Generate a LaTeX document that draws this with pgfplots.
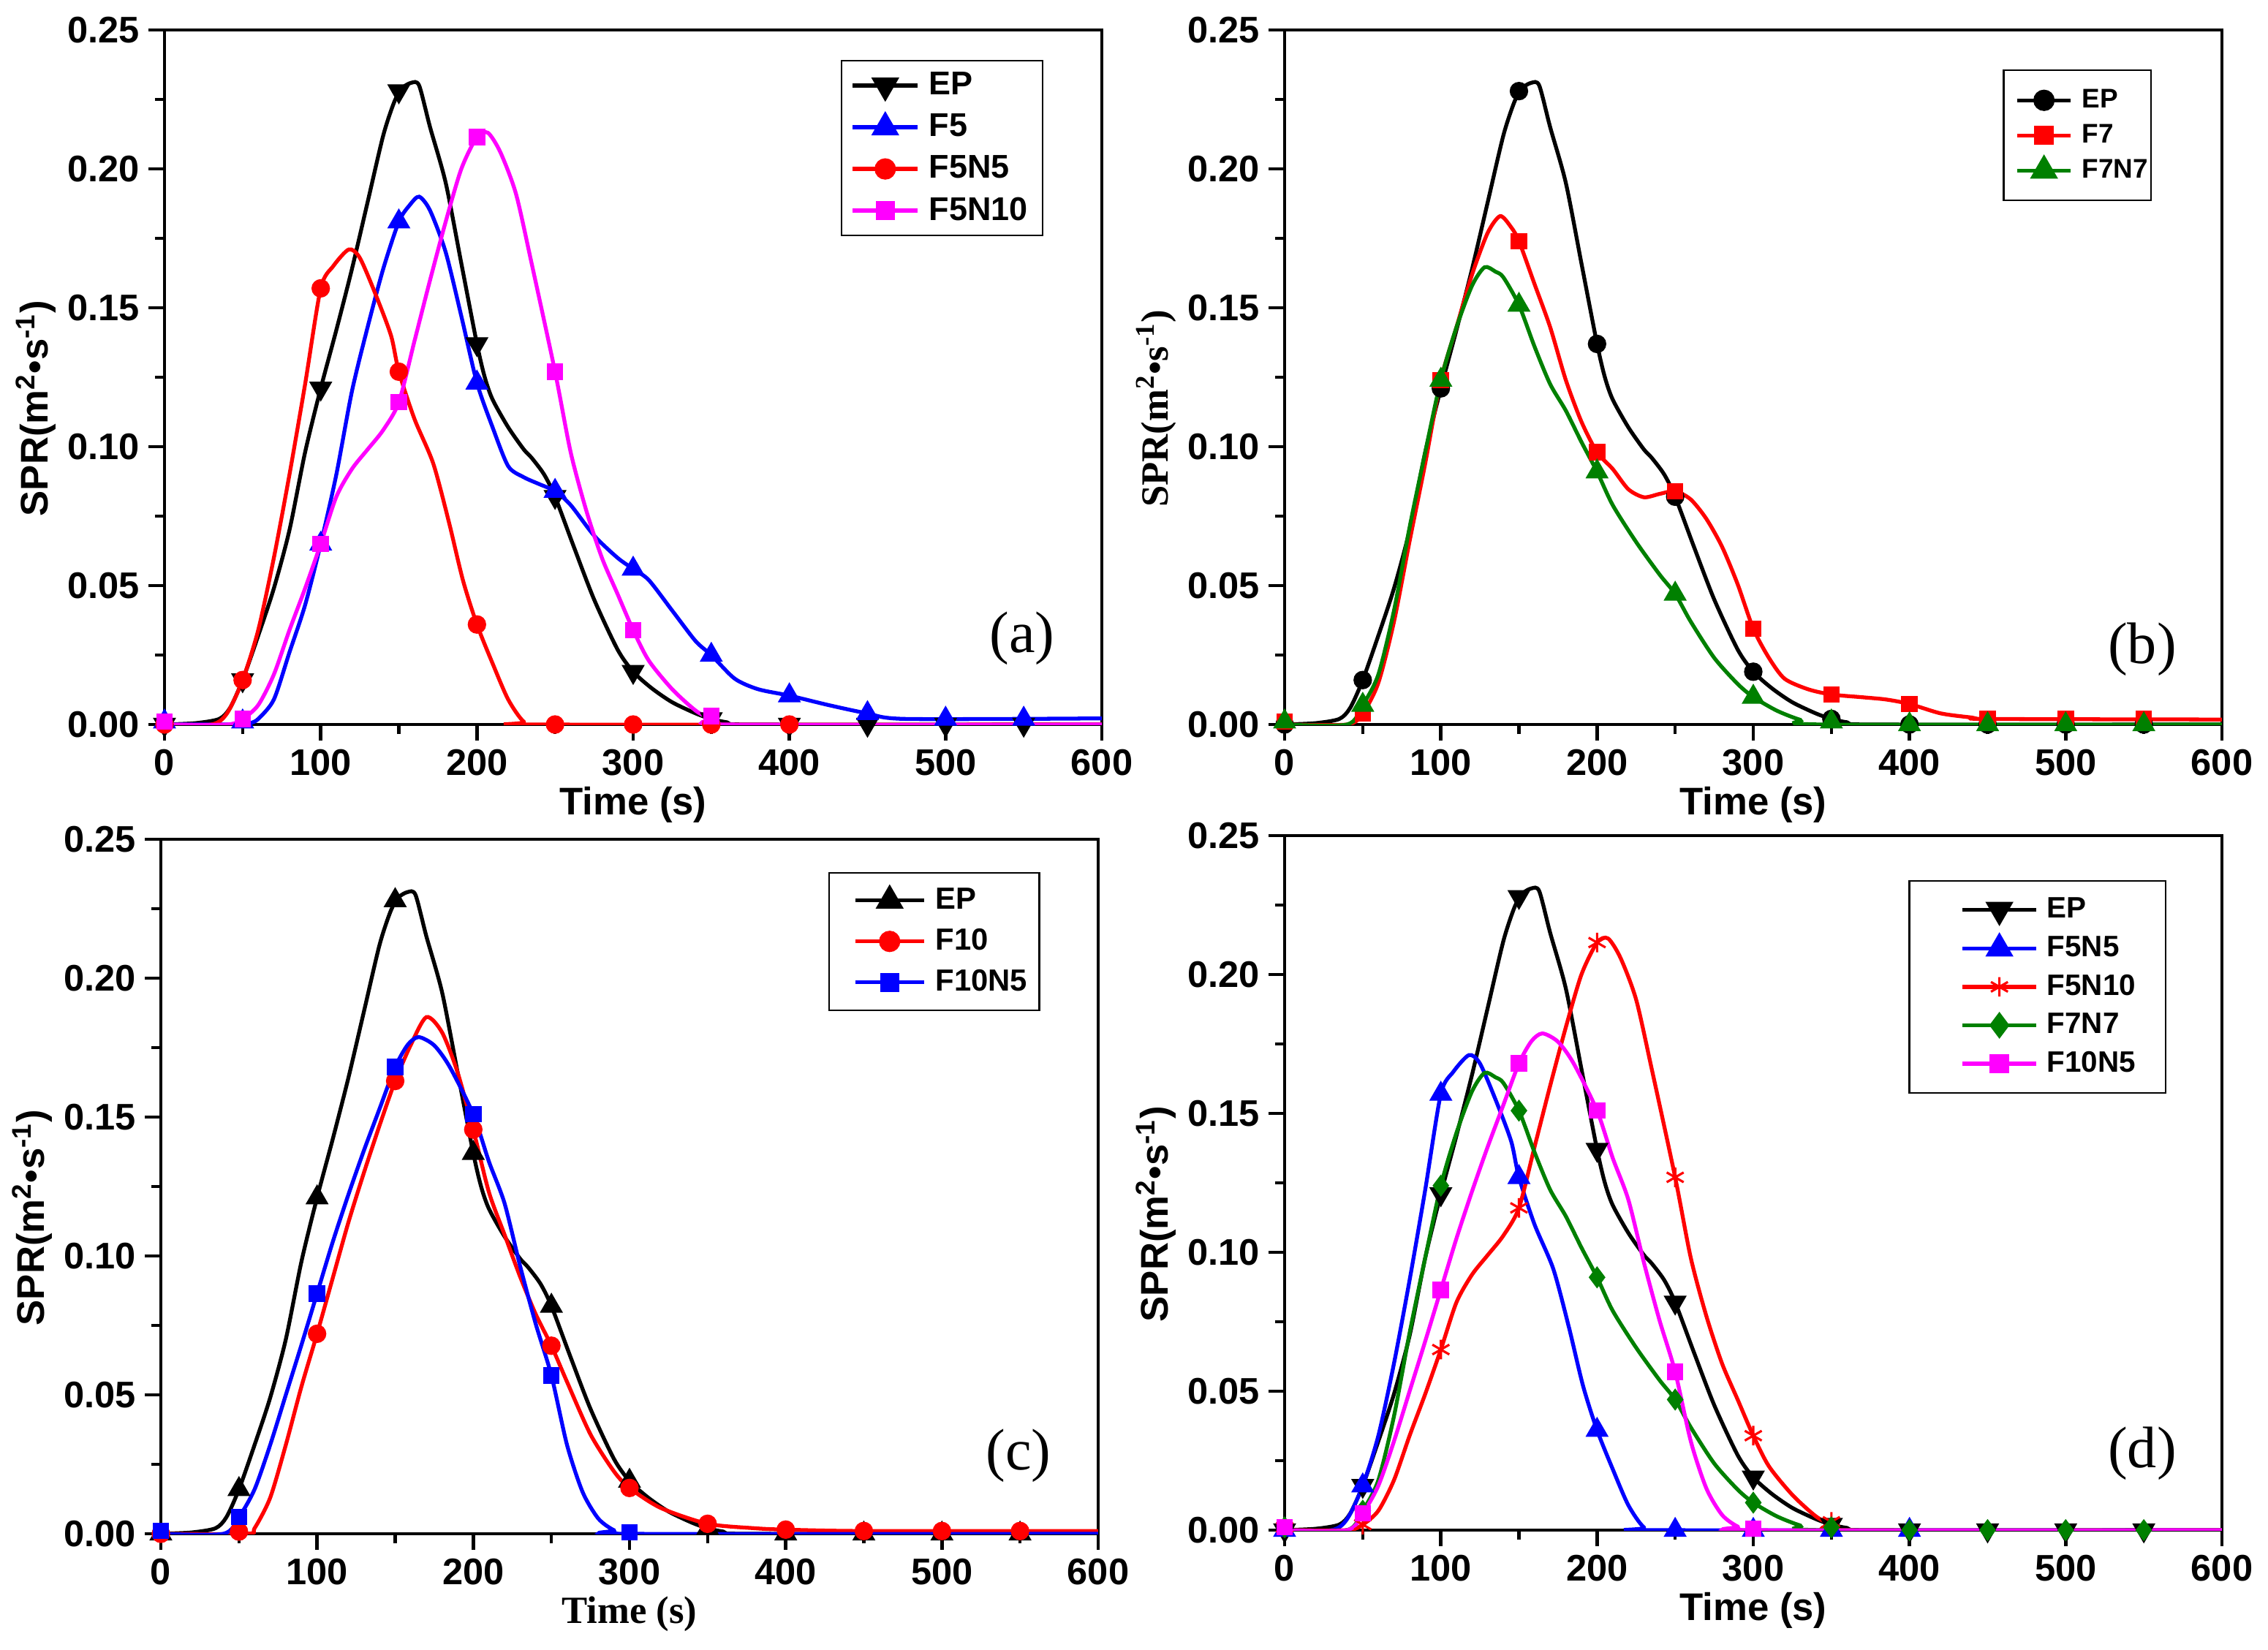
\documentclass[border=0pt]{standalone}
\usepackage{fontspec}
\setmainfont{Liberation Sans}
\newfontfamily\tnr{Liberation Serif}
\usepackage{pgfplots}
\usepackage{pgfplotstable}
\pgfplotsset{compat=1.18}

% ---------- line data ----------
\pgfplotstableread{
t v
0 0
20 0.0005
35 0.002
42 0.006
50 0.016
60 0.032
70 0.049
80 0.070
90 0.098
100 0.121
110 0.142
120 0.164
130 0.188
140 0.212
147 0.224
152 0.229
158 0.231
163 0.230
170 0.215
180 0.195
190 0.166
200 0.137
205 0.125
210 0.117
220 0.107
230 0.099
235 0.096
243 0.090
250 0.082
262 0.064
275 0.045
290 0.027
300 0.019
312 0.013
325 0.008
340 0.004
350 0.002
360 0.0008
375 0
600 0
}\EPline
\pgfplotstableread{
t v
0 0
50 0
55 0.0005
60 0.002
70 0.009
80 0.026
90 0.043
100 0.065
110 0.090
120 0.120
130 0.143
140 0.164
150 0.181
157 0.187
163 0.190
170 0.185
180 0.170
190 0.147
200 0.123
210 0.107
220 0.093
230 0.089
240 0.0865
250 0.084
260 0.079
275 0.068
290 0.060
300 0.056
310 0.052
325 0.041
340 0.030
350 0.025
365 0.0165
380 0.0127
400 0.0104
425 0.007
450 0.004
475 0.002
600 0.0022
}\Fline
\pgfplotstableread{
t v
0 0
30 0
40 0.004
50 0.016
60 0.034
70 0.060
80 0.090
90 0.1225
100 0.157
108 0.165
118 0.171
125 0.168
135 0.155
145 0.140
150 0.127
160 0.110
172 0.094
182 0.073
191 0.052
200 0.036
210 0.022
220 0.009
230 0.001
240 0
600 0
}\FNline
\pgfplotstableread{
t v
0 0
40 0
50 0.002
60 0.007
70 0.018
80 0.034
90 0.049
100 0.065
110 0.082
120 0.092
130 0.099
140 0.106
150 0.116
160 0.138
170 0.160
180 0.181
190 0.200
200 0.2115
207 0.213
215 0.206
225 0.191
235 0.166
250 0.127
260 0.098
270 0.077
280 0.060
290 0.047
300 0.034
310 0.023
325 0.0127
340 0.005
350 0.002
360 0
600 0
}\FNTline
\pgfplotstableread{
t v
0 0
40 0
50 0.004
60 0.015
70 0.037
80 0.066
90 0.094
100 0.124
110 0.143
120 0.162
130 0.177
138 0.183
145 0.179
150 0.174
160 0.1585
170 0.143
180 0.124
190 0.109
200 0.098
210 0.092
220 0.0847
230 0.0818
240 0.083
250 0.084
260 0.081
270 0.074
280 0.064
290 0.0505
300 0.0345
310 0.024
320 0.0165
335 0.0127
350 0.0108
370 0.0098
385 0.009
400 0.0074
420 0.004
440 0.0025
450 0.002
600 0.0018
}\Fsline
\pgfplotstableread{
t v
0 0
40 0
50 0.007
60 0.018
70 0.041
80 0.071
90 0.098
100 0.124
110 0.143
120 0.158
128 0.1646
135 0.163
140 0.161
150 0.151
160 0.136
170 0.1225
180 0.113
190 0.1017
200 0.091
210 0.079
225 0.0657
240 0.054
250 0.047
260 0.037
275 0.024
290 0.0146
300 0.0099
315 0.005
330 0.0017
345 0
600 0
}\FsNsline
\pgfplotstableread{
t v
0 0
55 0
60 0.002
70 0.013
80 0.032
90 0.053
100 0.072
110 0.092
120 0.112
130 0.130
140 0.147
150 0.163
160 0.176
170 0.186
180 0.1805
190 0.166
200 0.1455
210 0.123
220 0.1077
230 0.0925
240 0.079
250 0.0677
260 0.0547
275 0.0358
290 0.0225
300 0.0165
320 0.0093
350 0.0036
380 0.002
400 0.0015
450 0.001
600 0.001
}\FTline
\pgfplotstableread{
t v
0 0
40 0
50 0.006
60 0.016
70 0.032
80 0.050
90 0.068
100 0.0865
110 0.105
120 0.122
130 0.138
140 0.153
150 0.168
158 0.176
165 0.1788
175 0.1758
185 0.168
200 0.151
210 0.134
220 0.119
230 0.0963
240 0.0755
250 0.057
260 0.032
270 0.015
280 0.0055
290 0.0013
300 0
600 0
}\FTNline

% ---------- marker data ----------
\pgfplotstableread{
t v
0 0
50 0.016
100 0.121
150 0.228
200 0.137
250 0.082
300 0.019
350 0.002
400 0
450 0
500 0
550 0
}\EPmk
\pgfplotstableread{
t v
0 0.001
50 0.001
100 0.065
150 0.181
200 0.123
250 0.084
300 0.056
350 0.025
400 0.0104
450 0.004
500 0.002
550 0.002
}\Fmk
\pgfplotstableread{
t v
0 0
50 0.016
100 0.157
150 0.127
200 0.036
250 0
300 0
350 0
400 0
}\FNmk
\pgfplotstableread{
t v
0 0.001
50 0.002
100 0.065
150 0.116
200 0.2115
250 0.127
300 0.034
350 0.003
}\FNTmk
\pgfplotstableread{
t v
0 0.001
50 0.004
100 0.124
150 0.174
200 0.098
250 0.084
300 0.0345
350 0.0108
400 0.0074
450 0.002
500 0.002
550 0.002
}\Fsmk
\pgfplotstableread{
t v
0 0.001
50 0.007
100 0.124
150 0.151
200 0.091
250 0.047
300 0.0099
350 0.001
400 0
450 0
500 0
550 0
}\FsNsmk
\pgfplotstableread{
t v
0 0
50 0.0008
100 0.072
150 0.163
200 0.1455
250 0.0677
300 0.0165
350 0.0036
400 0.0015
450 0.001
500 0.001
550 0.001
}\FTmk
\pgfplotstableread{
t v
0 0.001
50 0.006
100 0.0865
150 0.168
200 0.151
250 0.057
300 0.0005
}\FTNmk

\definecolor{dgreen}{RGB}{0,128,0}
\definecolor{mag}{RGB}{255,0,255}
\definecolor{pblue}{RGB}{0,0,255}
\definecolor{pred}{RGB}{255,0,0}

\tikzset{plab/.style={font=\tnr\fontsize{22.8}{26}\selectfont}}
\pgfplotsset{
  panel/.style={
    scale only axis, width=128.2mm, height=95mm,
    xmin=0, xmax=600, ymin=0, ymax=0.25,
    xtick={0,100,200,300,400,500,600},
    minor xtick={50,150,250,350,450,550},
    ytick={0,0.05,0.1,0.15,0.2,0.25},
    minor ytick={0.025,0.075,0.125,0.175,0.225},
    tick align=outside, xtick pos=bottom, ytick pos=left,
    major tick length=2.2mm, minor tick length=1.3mm,
    axis line style={line width=1.3pt},
    every tick/.style={line width=1.3pt, black},
    tick label style={font=\fontsize{14.4}{17}\selectfont\bfseries},
    /pgf/number format/assume math mode=true,
    yticklabel style={/pgf/number format/fixed, /pgf/number format/fixed zerofill, /pgf/number format/precision=2},
    label style={font=\fontsize{15}{17}\selectfont\bfseries},
    xlabel style={at={(axis description cs:0.5,-0.116)}, anchor=center},
    ylabel style={at={(axis description cs:-0.137,0.455)}, anchor=center},
    legend cell align=left,
  },
  ln/.style={line width=1.5pt, forget plot, smooth, tension=0.45},
  mk/.style={only marks, forget plot},
  myleg/.style n args={9}{% x, y, font size, Lpad, len, gap, textwidth, rowheight, ysep
    legend style={at={(#1,#2)}, anchor=north east, draw=black, line width=0.6pt, fill=white,
      font=\fontsize{#3}{#3}\selectfont\bfseries,
      inner xsep=0pt, inner ysep=#9,
      nodes={inner xsep=0pt, inner ysep=0pt, minimum height=#8, text width=#7, align=left}},
    legend image code/.code={\path (0mm,0mm) (#4+#5+#6,0mm);
      \draw[mark repeat=2,mark phase=2,##1] plot coordinates {(#4,0mm) (#4+#5/2,0mm) (#4+#5,0mm)};},
  },
  mTri/.style={mark=triangle*, mark size=4.8pt},
  mDn/.style={mark=triangle*, mark size=4.8pt, mark options={rotate=180}},
  mCir/.style={mark=*, mark size=3.4pt},
  mSq/.style={mark=square*, mark size=3.0pt},
  mDia/.style={mark=diamond*, mark size=4.0pt},
  mAst/.style={mark=asterisk, mark size=3.8pt, mark options={line width=0.9pt}},
  lg/.style={line width=1.5pt},
}

\begin{document}
\begin{tikzpicture}
% ================= (a) =================
\begin{axis}[panel, at={(22.5mm,-99.1mm)}, anchor=south west,
  xlabel={Time (s)}, ylabel={SPR(m\textsuperscript{2}\textbullet s\textsuperscript{-1})},
  myleg={0.9376}{0.9568}{12.8}{1.3mm}{8.9mm}{1.3mm}{15.5mm}{5.7mm}{0.55mm}]
\addplot[ln, black] table {\EPline};
\addplot[mk, black, mDn] table {\EPmk};
\addplot[ln, pblue] table {\Fline};
\addplot[mk, pblue, mTri] table {\Fmk};
\addplot[ln, pred] table {\FNline};
\addplot[mk, pred, mCir] table {\FNmk};
\addplot[ln, mag] table {\FNTline};
\addplot[mk, mag, mSq] table {\FNTmk};
\addlegendimage{black, lg, mDn}
\addlegendentry{EP}
\addlegendimage{pblue, lg, mTri}
\addlegendentry{F5}
\addlegendimage{pred, lg, mCir}
\addlegendentry{F5N5}
\addlegendimage{mag, lg, mSq}
\addlegendentry{F5N10}
\node[plab] at (axis cs:549,0.031) {(a)};
\end{axis}

% ================= (b) =================
\begin{axis}[panel, at={(175.7mm,-99.1mm)}, anchor=south west,
  xlabel={Time (s)}, ylabel={\tnr\bfseries SPR(m\textsuperscript{2}\textbullet s\textsuperscript{-1})},
  myleg={0.925}{0.943}{10.5}{1.6mm}{7.3mm}{1.3mm}{9.4mm}{4.8mm}{1.7mm}]
\addplot[ln, black] table {\EPline};
\addplot[mk, black, mCir] table {\EPmk};
\addplot[ln, pred] table {\Fsline};
\addplot[mk, pred, mSq] table {\Fsmk};
\addplot[ln, dgreen] table {\FsNsline};
\addplot[mk, dgreen, mTri] table {\FsNsmk};
\addlegendimage{black, lg, mCir}
\addlegendentry{EP}
\addlegendimage{pred, lg, mSq}
\addlegendentry{F7}
\addlegendimage{dgreen, lg, mTri}
\addlegendentry{F7N7}
\node[plab] at (axis cs:549,0.027) {(b)};
\end{axis}

% ================= (c) =================
\begin{axis}[panel, at={(22.0mm,-209.8mm)}, anchor=south west,
  xlabel={\tnr\bfseries Time (s)}, ylabel={SPR(m\textsuperscript{2}\textbullet s\textsuperscript{-1})},
  myleg={0.938}{0.953}{11.9}{3.3mm}{9.4mm}{1.3mm}{14.2mm}{5.6mm}{1.0mm}]
\addplot[ln, black] table {\EPline};
\addplot[mk, black, mTri] table {\EPmk};
\addplot[ln, pred] table {\FTline};
\addplot[mk, pred, mCir] table {\FTmk};
\addplot[ln, pblue] table {\FTNline};
\addplot[mk, pblue, mSq] table {\FTNmk};
\addlegendimage{black, lg, mTri}
\addlegendentry{EP}
\addlegendimage{pred, lg, mCir}
\addlegendentry{F10}
\addlegendimage{pblue, lg, mSq}
\addlegendentry{F10N5}
\node[plab] at (axis cs:549,0.028) {(c)};
\end{axis}

% ================= (d) =================
\begin{axis}[panel, at={(175.7mm,-209.3mm)}, anchor=south west,
  xlabel={Time (s)}, ylabel={SPR(m\textsuperscript{2}\textbullet s\textsuperscript{-1})},
  myleg={0.9406}{0.936}{11.5}{7.0mm}{10.1mm}{1.2mm}{16.2mm}{5.26mm}{1.35mm}]
\addplot[ln, black] table {\EPline};
\addplot[mk, black, mDn] table {\EPmk};
\addplot[ln, pblue] table {\FNline};
\addplot[mk, pblue, mTri] table {\FNmk};
\addplot[ln, pred] table {\FNTline};
\addplot[mk, pred, mAst] table {\FNTmk};
\addplot[ln, dgreen] table {\FsNsline};
\addplot[mk, dgreen, mDia] table {\FsNsmk};
\addplot[ln, mag] table {\FTNline};
\addplot[mk, mag, mSq] table {\FTNmk};
\addlegendimage{black, lg, mDn}
\addlegendentry{EP}
\addlegendimage{pblue, lg, mTri}
\addlegendentry{F5N5}
\addlegendimage{pred, lg, mAst}
\addlegendentry{F5N10}
\addlegendimage{dgreen, lg, mDia}
\addlegendentry{F7N7}
\addlegendimage{mag, lg, mSq}
\addlegendentry{F10N5}
\node[plab] at (axis cs:549,0.0276) {(d)};
\end{axis}

\pgfresetboundingbox
\path[use as bounding box] (0mm,0mm) rectangle (310.2mm,-225.6mm);
\end{tikzpicture}
\end{document}
